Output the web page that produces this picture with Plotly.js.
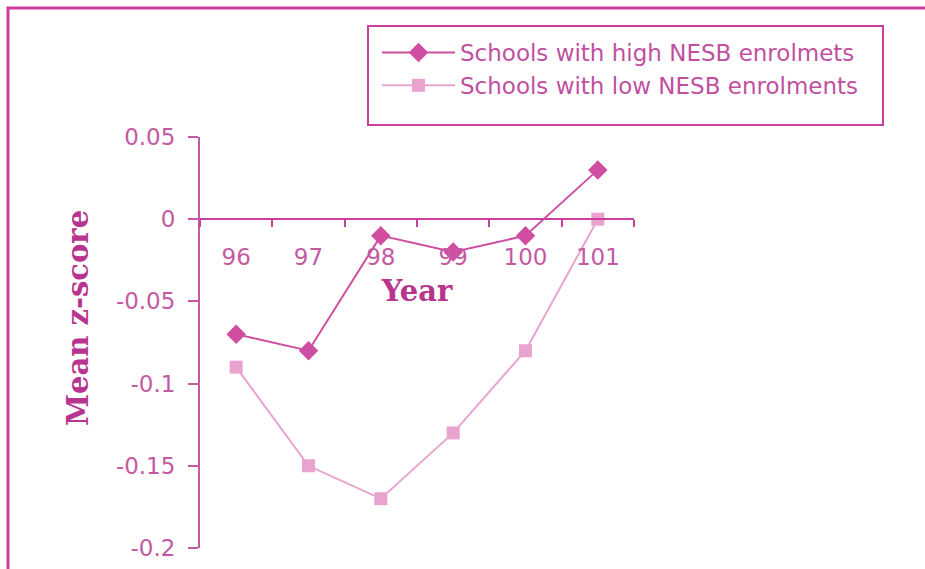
<!DOCTYPE html>
<html>
<head>
<meta charset="utf-8">
<script src="https://cdn.plot.ly/plotly-3.0.1.min.js"></script>
<style>html,body{margin:0;padding:0;background:#fff;}#chart{width:925px;height:569px;}</style>
</head>
<body>
<div id="chart"></div>
<script>
const years = ['96', '97', '98', '99', '100', '101'];
const highNESB = [-0.07, -0.08, -0.01, -0.02, -0.01, 0.03];
const lowNESB = [-0.09, -0.15, -0.17, -0.13, -0.08, 0.0];
const yTickVals = [-0.2, -0.15, -0.1, -0.05, 0, 0.05];
const yTickText = ['-0.2', '-0.15', '-0.1', '-0.05', '0', '0.05'];
const seriesNames = ['Schools with high NESB enrolmets', 'Schools with low NESB enrolments'];

const tickColor = '#c45aa4';
const traces = [
  {
    x: years, y: highNESB, name: seriesNames[0], type: 'scatter', mode: 'lines+markers',
    line: {color: '#cf4ea1', width: 2},
    marker: {symbol: 'diamond', size: 15, color: '#cf4ea1'},
    cliponaxis: false, legendgroup: 'a'
  },
  {
    x: years, y: lowNESB, name: seriesNames[1], type: 'scatter', mode: 'lines+markers',
    line: {color: '#e9a3cf', width: 2},
    marker: {symbol: 'square', size: 13, color: '#e9a3cf'},
    cliponaxis: false, legendgroup: 'b'
  }
];

const px = v => (v - 200) / 434;
const py = v => (548 - v) / 411;

const layout = {
  width: 925, height: 569,
  margin: {l: 200, r: 291, t: 137, b: 21},
  paper_bgcolor: '#ffffff', plot_bgcolor: '#ffffff',
  showlegend: true,
  font: {family: 'DejaVu Sans', color: tickColor},
  xaxis: {
    type: 'category', categoryorder: 'array', categoryarray: years,
    range: [-0.5, 5.5], tickson: 'boundaries',
    anchor: 'free', position: 0.8,
    showline: true, linecolor: '#c9409f', linewidth: 2,
    ticks: 'outside', ticklen: 7, tickwidth: 2, tickcolor: '#c9409f',
    ticklabelstandoff: 17,
    tickfont: {family: 'DejaVu Sans', size: 23, color: tickColor},
    showgrid: false, zeroline: false, fixedrange: true,
    title: {text: 'Year', standoff: 11, font: {family: 'DejaVu Serif', size: 29, color: '#b8358f', weight: 'bold'}}
  },
  yaxis: {
    range: [-0.2, 0.05], tickvals: yTickVals, ticktext: yTickText,
    showline: true, linecolor: '#c45aa4', linewidth: 2,
    ticks: 'outside', ticklen: 10, tickwidth: 2, tickcolor: '#c45aa4',
    ticklabelstandoff: 8,
    tickfont: {family: 'DejaVu Sans', size: 23, color: tickColor},
    showgrid: false, zeroline: false, fixedrange: true
  },
  legend: {
    x: px(377), y: py(31), xanchor: 'left', yanchor: 'top',
    bgcolor: 'rgba(0,0,0,0)', borderwidth: 0,
    font: {family: 'DejaVu Sans', size: 23, color: '#c0509f'},
    itemwidth: 73, tracegroupgap: 13, traceorder: 'normal'
  },
  annotations: [
    {
      text: 'Mean z-score', textangle: -90, showarrow: false,
      xref: 'paper', yref: 'paper', x: px(78), y: py(318),
      xanchor: 'center', yanchor: 'middle',
      font: {family: 'DejaVu Serif', size: 29, color: '#b8358f', weight: 'bold'}
    }
  ],
  shapes: [
    {
      type: 'rect', xref: 'paper', yref: 'paper',
      x0: px(8), x1: px(940), y0: py(590), y1: py(8),
      line: {color: '#d03aa0', width: 3}, fillcolor: 'rgba(0,0,0,0)', layer: 'below'
    },
    {
      type: 'rect', xref: 'paper', yref: 'paper',
      x0: px(368), x1: px(883), y0: py(125), y1: py(26),
      line: {color: '#c9409f', width: 2}, fillcolor: 'rgba(0,0,0,0)', layer: 'below'
    }
  ]
};

Plotly.newPlot('chart', traces, layout, {staticPlot: true, displayModeBar: false});
</script>
</body>
</html>
